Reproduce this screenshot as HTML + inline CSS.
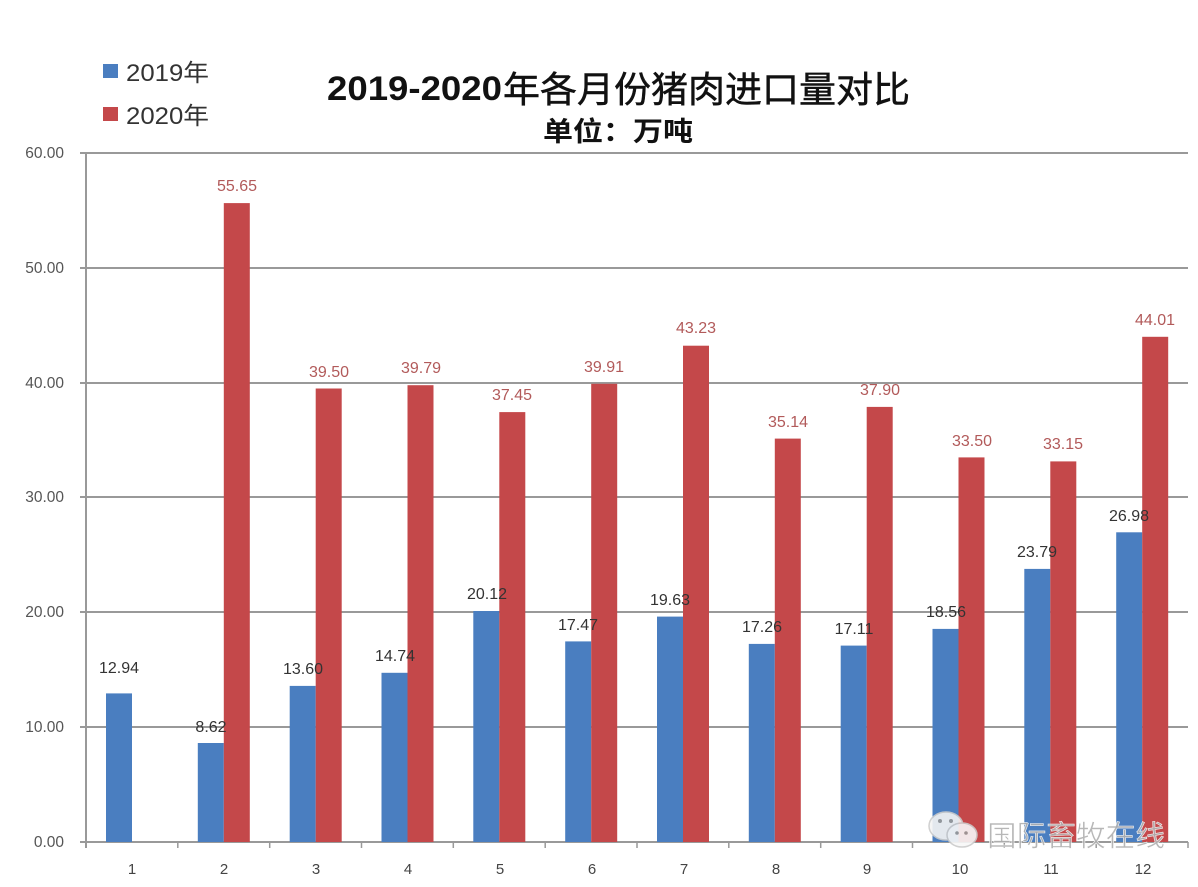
<!DOCTYPE html>
<html><head><meta charset="utf-8"><style>
html,body{margin:0;padding:0;background:#fff;}
svg{display:block;}
</style></head><body>
<svg width="1198" height="887" viewBox="0 0 1198 887" xmlns="http://www.w3.org/2000/svg">
<rect width="1198" height="887" fill="#fff"/>
<!-- gridlines -->
<g stroke="#999" stroke-width="2">
<line x1="80" y1="153" x2="1188" y2="153"/>
<line x1="80" y1="268" x2="1188" y2="268"/>
<line x1="80" y1="383" x2="1188" y2="383"/>
<line x1="80" y1="497" x2="1188" y2="497"/>
<line x1="80" y1="612" x2="1188" y2="612"/>
<line x1="80" y1="727" x2="1188" y2="727"/>
<line x1="80" y1="842" x2="1188" y2="842"/>
<line x1="86" y1="153" x2="86" y2="848"/>
</g>
<g stroke="#999" stroke-width="1.5">
<line x1="177.8" y1="842" x2="177.8" y2="848"/><line x1="269.7" y1="842" x2="269.7" y2="848"/>
<line x1="361.5" y1="842" x2="361.5" y2="848"/><line x1="453.3" y1="842" x2="453.3" y2="848"/>
<line x1="545.2" y1="842" x2="545.2" y2="848"/><line x1="637" y1="842" x2="637" y2="848"/>
<line x1="728.8" y1="842" x2="728.8" y2="848"/><line x1="820.7" y1="842" x2="820.7" y2="848"/>
<line x1="912.5" y1="842" x2="912.5" y2="848"/><line x1="1004.3" y1="842" x2="1004.3" y2="848"/>
<line x1="1096.2" y1="842" x2="1096.2" y2="848"/><line x1="1188" y1="842" x2="1188" y2="848"/>
</g>
<!-- y labels -->
<g font-family="Liberation Sans, sans-serif" font-size="15.5" fill="#555" text-anchor="end">
<text x="64" y="158">60.00</text>
<text x="64" y="273">50.00</text>
<text x="64" y="388">40.00</text>
<text x="64" y="502">30.00</text>
<text x="64" y="617">20.00</text>
<text x="64" y="732">10.00</text>
<text x="64" y="847">0.00</text>
</g>
<!-- x labels -->
<g font-family="Liberation Sans, sans-serif" font-size="15" fill="#444" text-anchor="middle">
<text x="132" y="874">1</text><text x="224" y="874">2</text><text x="316" y="874">3</text>
<text x="408" y="874">4</text><text x="500" y="874">5</text><text x="592" y="874">6</text>
<text x="684" y="874">7</text><text x="776" y="874">8</text><text x="867" y="874">9</text>
<text x="960" y="874">10</text><text x="1051" y="874">11</text><text x="1143" y="874">12</text>
</g>
<!-- blue bars -->
<g fill="#4a7ec0">
<rect x="106" y="693.4" width="26" height="148.6"/>
<rect x="197.8" y="743" width="26" height="99"/>
<rect x="289.7" y="685.9" width="26" height="156.1"/>
<rect x="381.5" y="672.8" width="26" height="169.2"/>
<rect x="473.3" y="611" width="26" height="231"/>
<rect x="565.2" y="641.4" width="26" height="200.6"/>
<rect x="657" y="616.6" width="26" height="225.4"/>
<rect x="748.8" y="643.9" width="26" height="198.1"/>
<rect x="840.7" y="645.6" width="26" height="196.4"/>
<rect x="932.5" y="628.9" width="26" height="213.1"/>
<rect x="1024.3" y="568.9" width="26" height="273.1"/>
<rect x="1116.2" y="532.3" width="26" height="309.7"/>
</g>
<!-- red bars -->
<g fill="#c4484a">
<rect x="223.8" y="203.1" width="26" height="638.9"/>
<rect x="315.7" y="388.5" width="26" height="453.5"/>
<rect x="407.5" y="385.2" width="26" height="456.8"/>
<rect x="499.3" y="412.1" width="26" height="429.9"/>
<rect x="591.2" y="383.8" width="26" height="458.2"/>
<rect x="683" y="345.7" width="26" height="496.3"/>
<rect x="774.8" y="438.6" width="26" height="403.4"/>
<rect x="866.7" y="406.9" width="26" height="435.1"/>
<rect x="958.5" y="457.4" width="26" height="384.6"/>
<rect x="1050.3" y="461.4" width="26" height="380.6"/>
<rect x="1142.2" y="336.8" width="26" height="505.2"/>
</g>
<!-- blue labels -->
<g font-family="Liberation Sans, sans-serif" font-size="16" fill="#333" text-anchor="middle">
<text x="119" y="673">12.94</text>
<text x="211" y="732">8.62</text>
<text x="303" y="674">13.60</text>
<text x="395" y="661">14.74</text>
<text x="487" y="599">20.12</text>
<text x="578" y="630">17.47</text>
<text x="670" y="605">19.63</text>
<text x="762" y="632">17.26</text>
<text x="854" y="634">17.11</text>
<text x="946" y="617">18.56</text>
<text x="1037" y="557">23.79</text>
<text x="1129" y="521">26.98</text>
</g>
<!-- red labels -->
<g font-family="Liberation Sans, sans-serif" font-size="16" fill="#b25a5a" text-anchor="middle">
<text x="237" y="191">55.65</text>
<text x="329" y="377">39.50</text>
<text x="421" y="373">39.79</text>
<text x="512" y="400">37.45</text>
<text x="604" y="372">39.91</text>
<text x="696" y="333">43.23</text>
<text x="788" y="427">35.14</text>
<text x="880" y="395">37.90</text>
<text x="972" y="446">33.50</text>
<text x="1063" y="449">33.15</text>
<text x="1155" y="325">44.01</text>
</g>
<!-- legend -->
<rect x="103" y="64" width="15" height="14" fill="#4a7ec0"/>
<rect x="103" y="107" width="15" height="14" fill="#c4484a"/>
<g font-family="Liberation Sans, 'Noto Sans CJK SC', sans-serif" font-size="24" fill="#333">
<text x="126" y="81" textLength="83" lengthAdjust="spacingAndGlyphs">2019年</text>
<text x="126" y="124" textLength="83" lengthAdjust="spacingAndGlyphs">2020年</text>
</g>
<!-- title -->
<text y="100" font-family="Liberation Sans, 'Noto Sans CJK SC', sans-serif" fill="#111"><tspan x="327" font-size="34" font-weight="bold" textLength="175" lengthAdjust="spacingAndGlyphs">2019-2020</tspan><tspan x="503" y="102" font-size="36" stroke="#111" stroke-width="0.5" textLength="407" lengthAdjust="spacingAndGlyphs">年各月份猪肉进口量对比</tspan></text>
<text x="543" y="141" font-family="'Noto Sans CJK SC', sans-serif" font-size="27" font-weight="bold" fill="#111" textLength="150" lengthAdjust="spacingAndGlyphs">单位：万吨</text>
<!-- watermark -->
<g opacity="0.9">
<ellipse cx="946" cy="826" rx="17" ry="14" fill="#f4f4f4" stroke="#ccc" stroke-width="1.5"/>
<ellipse cx="962" cy="835" rx="15" ry="12" fill="#f8f8f8" stroke="#ccc" stroke-width="1.5"/>
<circle cx="940" cy="821" r="2" fill="#999"/><circle cx="951" cy="821" r="2" fill="#999"/>
<circle cx="957" cy="833" r="1.8" fill="#999"/><circle cx="966" cy="833" r="1.8" fill="#999"/>
<text x="987" y="846" font-family="'Noto Sans CJK SC', sans-serif" font-size="29" fill="#b0b0b0" stroke="#fff" stroke-width="0.6" textLength="178" lengthAdjust="spacingAndGlyphs">国际畜牧在线</text>
</g>
</svg>
</body></html>
